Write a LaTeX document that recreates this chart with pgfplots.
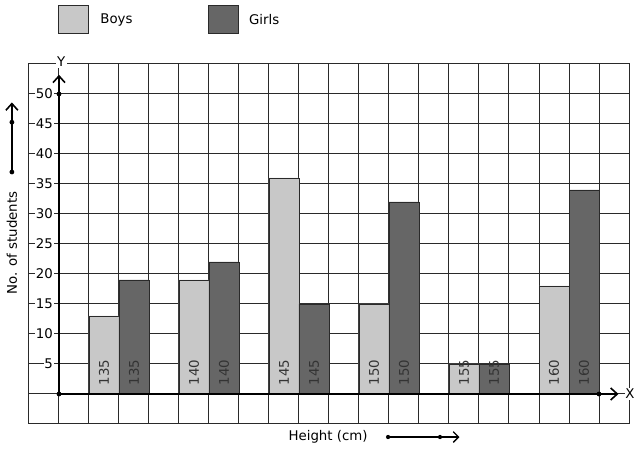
\documentclass[border=0pt]{standalone}
\usepackage{pgfplots}
\pgfplotsset{compat=1.18}
\usepackage{fontspec}
\setmainfont{DejaVu Sans}
\usetikzlibrary{arrows.meta}
\definecolor{boys}{HTML}{C8C8C8}
\definecolor{girls}{HTML}{666666}
\definecolor{gridc}{HTML}{2A2A2A}
\definecolor{lab}{HTML}{333333}
\begin{document}
\begin{tikzpicture}[font=\fontsize{10}{12}\selectfont]
\path[use as bounding box] (-21.75pt,-19.5pt) rectangle (456pt,318pt);
\begin{axis}[
 at={(0,0)}, anchor=south west, scale only axis, width=450pt, height=270pt,
 xmin=-1, xmax=19, ymin=-5, ymax=55,
 xtick={-1,0,...,19}, ytick={-5,0,...,55},
 xticklabels={}, yticklabels={},
 major tick length=0pt,
 grid=major, grid style={gridc, line width=0.75pt},
 axis line style={gridc, line width=0.75pt},
 clip=false,
]
% Boys
\addplot[ybar, bar width=1, bar shift=0pt, fill=boys, draw=gridc, line width=0.5pt]
 coordinates {(1.5,13) (4.5,19) (7.5,36) (10.5,15) (13.5,5) (16.5,18)};
% Girls
\addplot[ybar, bar width=1, bar shift=0pt, fill=girls, draw=gridc, line width=0.5pt]
 coordinates {(2.5,19) (5.5,22) (8.5,15) (11.5,32) (14.5,5) (17.5,34)};
% bar labels
\node[rotate=90, anchor=west, text=lab] at (axis cs:1.5,0.7) {135};
\node[rotate=90, anchor=west, text=lab] at (axis cs:2.5,0.7) {135};
\node[rotate=90, anchor=west, text=lab] at (axis cs:4.5,0.7) {140};
\node[rotate=90, anchor=west, text=lab] at (axis cs:5.5,0.7) {140};
\node[rotate=90, anchor=west, text=lab] at (axis cs:7.5,0.7) {145};
\node[rotate=90, anchor=west, text=lab] at (axis cs:8.5,0.7) {145};
\node[rotate=90, anchor=west, text=lab] at (axis cs:10.5,0.7) {150};
\node[rotate=90, anchor=west, text=lab] at (axis cs:11.5,0.7) {150};
\node[rotate=90, anchor=west, text=lab] at (axis cs:13.5,0.7) {155};
\node[rotate=90, anchor=west, text=lab] at (axis cs:14.5,0.7) {155};
\node[rotate=90, anchor=west, text=lab] at (axis cs:16.5,0.7) {160};
\node[rotate=90, anchor=west, text=lab] at (axis cs:17.5,0.7) {160};
% y tick labels
\tikzset{yl/.style={anchor=east, fill=white, inner xsep=0.5pt, inner ysep=0pt}}
\node[yl] at (axis cs:-0.17,5) {5};
\node[yl] at (axis cs:-0.17,10) {10};
\node[yl] at (axis cs:-0.17,15) {15};
\node[yl] at (axis cs:-0.17,20) {20};
\node[yl] at (axis cs:-0.17,25) {25};
\node[yl] at (axis cs:-0.17,30) {30};
\node[yl] at (axis cs:-0.17,35) {35};
\node[yl] at (axis cs:-0.17,40) {40};
\node[yl] at (axis cs:-0.17,45) {45};
\node[yl] at (axis cs:-0.17,50) {50};
% axes
\draw[black, line width=1.6pt, -{Straight Barb[length=5pt,width=9pt,line width=1.2pt]}] (axis cs:0,0) -- (axis cs:0,53.2);
\draw[black, line width=1.6pt, -{Straight Barb[length=5pt,width=9pt,line width=1.2pt]}] (axis cs:0,0) -- (axis cs:18.65,0);
\fill[black] (axis cs:0,50) circle (1.8pt);
\fill[black] (axis cs:0,0) circle (1.8pt);
\fill[black] (axis cs:18,0) circle (1.8pt);
\node[fill=white, inner sep=1pt] at (axis cs:0.07,55.4) {Y};
\node[anchor=west, fill=white, inner sep=0.5pt] at (axis cs:18.85,0) {X};
% left arrow and label
\draw[black, line width=1.5pt, -{Straight Barb[length=5pt,width=9pt,line width=1.2pt]}] (axis cs:-1.57,37) -- (axis cs:-1.57,48.6);
\fill[black] (axis cs:-1.57,37) circle (1.8pt);
\fill[black] (axis cs:-1.57,45.3) circle (1.8pt);
\node[rotate=90] at (axis cs:-1.57,25.2) {No. of students};
% bottom label and arrow
\node at (axis cs:8.97,-7.17) {Height (cm)};
\draw[black, line width=1pt, -{Straight Barb[length=4pt,width=8pt,line width=1pt]}] (axis cs:10.97,-7.17) -- (axis cs:13.35,-7.17);
\fill[black] (axis cs:10.97,-7.17) circle (1.6pt);
\fill[black] (axis cs:12.7,-7.17) circle (1.6pt);
% legend
\draw[fill=boys, draw=gridc, line width=0.75pt] (axis cs:0,60) rectangle (axis cs:1,64.8);
\draw[fill=girls, draw=gridc, line width=0.75pt] (axis cs:5,60) rectangle (axis cs:6,64.8);
\node[anchor=west, inner sep=0pt] at (axis cs:1.37,62.4) {Boys};
\node[anchor=west, inner sep=0pt] at (axis cs:6.33,62.4) {Girls};
\end{axis}
\end{tikzpicture}
\end{document}
